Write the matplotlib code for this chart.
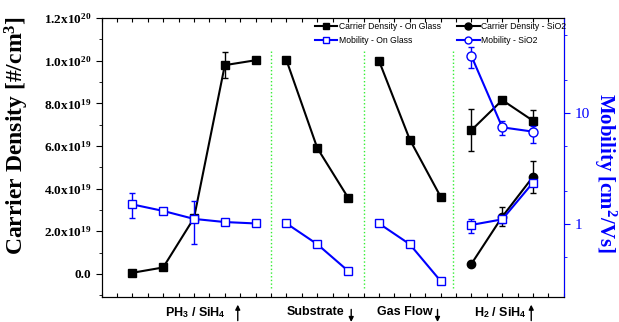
import numpy as np
import matplotlib
matplotlib.use('Agg')
import matplotlib.pyplot as plt
from matplotlib.ticker import MultipleLocator, FuncFormatter, LogLocator, NullFormatter
from matplotlib.lines import Line2D

plt.rcParams['mathtext.fontset'] = 'custom'
plt.rcParams['mathtext.rm'] = 'Liberation Serif:bold'
plt.rcParams['mathtext.sf'] = 'Liberation Sans:bold'
plt.rcParams['mathtext.default'] = 'rm'

# x positions of each process group
groups_x = [[1, 2, 3, 4, 5], [6, 7, 8], [9, 10, 11], [12, 13, 14]]
dividers = [5.5, 8.5, 11.4]
group_labels = [r'PH$_\mathsf{3}$ / SiH$_\mathsf{4}$', 'Substrate', 'Gas Flow', r'H$_\mathsf{2}$ / SiH$_\mathsf{4}$']
label_x = [3.03, 6.94, 9.84, 12.94]
arrow_x = [4.42, 8.1, 10.9, 13.94]
arrow_up = [True, False, False, True]

# carrier density on glass [1e19 /cm3]
cd_glass = [[0.05, 0.3, 2.62, 9.79, 10.02], [10.02, 5.9, 3.57], [10.0, 6.3, 3.62], [6.74, 8.15, 7.18]]
cd_glass_err = [[0, 0, 0, 0.62, 0.12], [0, 0, 0], [0, 0, 0], [1.0, 0, 0.5]]
# carrier density on SiO2 (last group only)
cd_sio2 = [0.47, 2.68, 4.56]
cd_sio2_err = [0, 0.45, 0.75]

# mobility on glass [cm2/Vs]
mob_glass = [[1.50, 1.31, 1.11, 1.04, 1.01], [1.01, 0.656, 0.377], [1.01, 0.656, 0.306], [0.98, 1.10, 2.36]]
mob_glass_lo = [[1.14, 1.25, 0.656, 0.99, 0.96], [0.96, 0.656, 0.377], [0.96, 0.656, 0.306], [0.83, 1.02, 2.2]]
mob_glass_hi = [[1.89, 1.37, 1.61, 1.09, 1.06], [1.06, 0.656, 0.377], [1.06, 0.656, 0.306], [1.11, 1.19, 2.5]]
# mobility on SiO2
mob_sio2 = [32.6, 7.43, 6.79]
mob_sio2_lo = [25.3, 6.3, 5.4]
mob_sio2_hi = [39.6, 8.5, 7.6]

blue = '#0000ff'

fig = plt.figure(figsize=(6.19, 3.22), dpi=100)
ax = fig.add_axes([0.164, 0.078, 0.747, 0.866])
ax2 = ax.twinx()

for i, xs in enumerate(groups_x):
    ax.errorbar(xs, np.array(cd_glass[i]) * 1e19, yerr=np.array(cd_glass_err[i]) * 1e19,
                color='black', marker='s', ms=6, lw=1.5, capsize=2.5, elinewidth=1, zorder=3)
ax.errorbar(groups_x[3], np.array(cd_sio2) * 1e19, yerr=np.array(cd_sio2_err) * 1e19,
            color='black', marker='o', ms=6, lw=1.5, capsize=2.5, elinewidth=1, zorder=3)

for d in dividers:
    ax.axvline(d, ymin=0.032, ymax=0.885, color='#33ee33', ls=':', lw=1)

for i, xs in enumerate(groups_x):
    m = np.array(mob_glass[i])
    err = [m - np.array(mob_glass_lo[i]), np.array(mob_glass_hi[i]) - m]
    ax2.errorbar(xs, m, yerr=err, color=blue, marker='s', ms=6, mfc='white', mec=blue,
                 lw=1.5, capsize=2.5, elinewidth=1, zorder=4)
m = np.array(mob_sio2)
ax2.errorbar(groups_x[3], m, yerr=[m - np.array(mob_sio2_lo), np.array(mob_sio2_hi) - m],
             color=blue, marker='o', ms=6.5, mfc='white', mec=blue, lw=1.5, capsize=2.5,
             elinewidth=1, zorder=4)

# x axis
ax.set_xlim(0, 15)
ax.set_xticks(np.arange(0, 15.01, 0.5))
ax.tick_params(axis='x', direction='in', length=3, top=True, labelbottom=False)

# left axis
ax.set_ylim(-1.08e19, 1.2e20)
ax.yaxis.set_major_locator(MultipleLocator(2e19))
ax.yaxis.set_minor_locator(MultipleLocator(1e19))


def cd_fmt(v, pos):
    if abs(v) < 1:
        return '0.0'
    e = int(np.floor(np.log10(abs(v)) + 1e-9))
    return f'{v / 10 ** e:.1f}x10$^{{{e}}}$'


ax.yaxis.set_major_formatter(FuncFormatter(cd_fmt))
ax.tick_params(axis='y', which='major', direction='out', length=4, labelsize=9.5)
ax.tick_params(axis='y', which='minor', direction='out', length=2)
for lab in ax.get_yticklabels():
    lab.set_fontfamily('Liberation Serif')
    lab.set_fontweight('bold')
ax.set_ylabel('Carrier Density [#/cm$^3$]', fontsize=17, fontfamily='Liberation Serif', fontweight='bold')
ax.yaxis.set_label_coords(-0.152, 0.58)

# right axis
ax2.set_yscale('log')
ax2.set_ylim(0.22, 71.8)
ax2.set_yticks([1, 10], ['1', '10'])
ax2.yaxis.set_minor_locator(LogLocator(base=10, subs=(2, 5)))
ax2.yaxis.set_minor_formatter(NullFormatter())
ax2.tick_params(axis='y', which='major', direction='out', length=4, colors=blue, labelsize=11)
ax2.tick_params(axis='y', which='minor', direction='out', length=2, colors=blue)
for lab in ax2.get_yticklabels():
    lab.set_fontfamily('Liberation Serif')
ax2.spines['right'].set_color(blue)
ax2.set_ylabel('Mobility [cm$^2$/Vs]', fontsize=15, color=blue, fontfamily='Liberation Serif',
               fontweight='bold', rotation=270, va='center')
ax2.yaxis.set_label_coords(1.089, 0.444)

# group labels and arrows
for lx, txt in zip(label_x, group_labels):
    ax.text(lx, -0.055, txt, transform=ax.get_xaxis_transform(), ha='center', va='center',
            fontsize=9, fontfamily='Liberation Sans', fontweight='bold')
for axx, up in zip(arrow_x, arrow_up):
    if up:
        start, end = -0.095, -0.018
    else:
        start, end = -0.035, -0.1
    ax.annotate('', xy=(axx, end), xytext=(axx, start), xycoords=ax.get_xaxis_transform(),
                arrowprops=dict(arrowstyle='-|>', color='black', lw=1, mutation_scale=7),
                annotation_clip=False)

# legend
handles = [
    Line2D([], [], color='black', marker='s', ms=5, lw=1.5),
    Line2D([], [], color=blue, marker='s', ms=5, mfc='white', lw=1.5),
    Line2D([], [], color='black', marker='o', ms=5, lw=1.5),
    Line2D([], [], color=blue, marker='o', ms=5, mfc='white', lw=1.5),
]
labels = ['Carrier Density - On Glass', 'Mobility - On Glass',
          'Carrier Density - SiO2', 'Mobility - SiO2']
ax2.legend(handles, labels, ncol=2, frameon=False, loc='upper left',
           bbox_to_anchor=(0.461, 0.985), handlelength=2.6, handletextpad=0.2,
           columnspacing=1.9, labelspacing=0.55, borderpad=0, borderaxespad=0,
           prop={'family': 'Liberation Sans', 'size': 6.2})

fig.savefig('out.png', dpi=100)
